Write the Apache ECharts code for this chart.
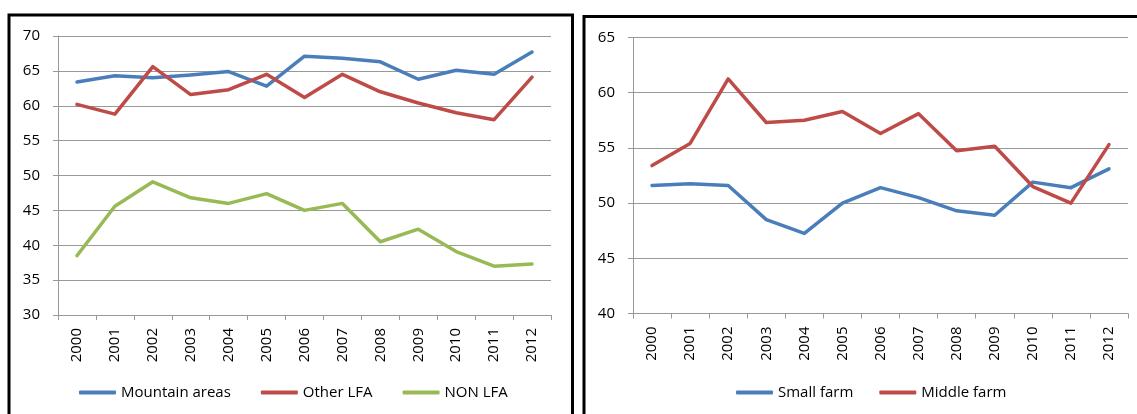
<!DOCTYPE html>
<html>
<head>
<meta charset="utf-8">
<style>
  html, body { margin: 0; padding: 0; background: #fff; }
  #chart { width: 1137px; height: 414px; }
</style>
<script src="https://cdn.jsdelivr.net/npm/echarts@6/dist/echarts.min.js"></script>
</head>
<body>
<div id="chart"></div>
<script>
// years on both x axes
const years = ["2000", "2001", "2002", "2003", "2004", "2005", "2006", "2007", "2008", "2009", "2010", "2011", "2012"];

// left panel
const mountainAreas = [63.4, 64.3, 64.0, 64.4, 64.9, 62.8, 67.1, 66.8, 66.3, 63.8, 65.1, 64.5, 67.7];
const otherLFA = [60.2, 58.8, 65.6, 61.6, 62.3, 64.5, 61.2, 64.5, 62.0, 60.4, 59.0, 58.0, 64.1];
const nonLFA = [38.5, 45.6, 49.1, 46.8, 46.0, 47.4, 45.0, 46.0, 40.5, 42.3, 39.1, 37.0, 37.3];

// right panel
const smallFarm = [51.6, 51.75, 51.6, 48.5, 47.25, 50.0, 51.4, 50.5, 49.3, 48.9, 51.9, 51.4, 53.1];
const middleFarm = [53.4, 55.4, 61.25, 57.3, 57.5, 58.3, 56.3, 58.1, 54.75, 55.15, 51.5, 50.0, 55.3];

const BLUE = "#4A7EBB";
const RED = "#BE4B48";
const GREEN = "#98B954";
const FONT = "Open Sans";

const chart = echarts.init(document.getElementById("chart"));

function xAxis(gridIndex) {
  return {
    type: "category",
    gridIndex: gridIndex,
    data: years,
    boundaryGap: true,
    axisLine: { lineStyle: { color: "#999", width: 1 } },
    axisTick: { show: true, length: 5, lineStyle: { color: "#999" } },
    axisLabel: { rotate: 90, margin: 13, interval: 0, color: "#000", fontFamily: FONT, fontSize: 15 },
  };
}

function yAxis(gridIndex, min, max) {
  return {
    type: "value",
    gridIndex: gridIndex,
    min: min,
    max: max,
    interval: 5,
    axisLine: { show: true, lineStyle: { color: "#999", width: 1 } },
    axisTick: { show: true, length: 5, lineStyle: { color: "#999" } },
    axisLabel: { margin: 18, color: "#000", fontFamily: FONT, fontSize: 15 },
    splitLine: { lineStyle: { color: "#999", width: 1 } },
  };
}

function line(name, data, color, idx) {
  return {
    name: name,
    type: "line",
    xAxisIndex: idx,
    yAxisIndex: idx,
    data: data,
    symbol: "none",
    color: color,
    lineStyle: { width: 3.5, color: color, cap: "round", join: "round" },
    animation: false,
  };
}

const legendText = { color: "#000", fontFamily: FONT, fontSize: 15 };

chart.setOption({
  animation: false,
  grid: [
    { left: 58, top: 36, width: 493, height: 279 },
    { left: 633, top: 37.5, width: 495, height: 276 },
  ],
  xAxis: [xAxis(0), xAxis(1)],
  yAxis: [yAxis(0, 30, 70), yAxis(1, 40, 65)],
  legend: [
    {
      data: ["Mountain areas", "Other LFA", "NON LFA"],
      left: 74, top: 380,
      icon: "roundRect", itemWidth: 37, itemHeight: 4, itemGap: 30,
      textStyle: legendText,
    },
    {
      data: ["Small farm", "Middle farm"],
      left: 731, top: 380,
      icon: "roundRect", itemWidth: 37, itemHeight: 4, itemGap: 26,
      textStyle: legendText,
    },
  ],
  series: [
    line("Mountain areas", mountainAreas, BLUE, 0),
    line("Other LFA", otherLFA, RED, 0),
    line("NON LFA", nonLFA, GREEN, 0),
    line("Small farm", smallFarm, BLUE, 1),
    line("Middle farm", middleFarm, RED, 1),
  ],
  graphic: [
    // panel frames
    { type: "rect", shape: { x: 9, y: 15, width: 563.5, height: 430 }, style: { fill: "none", stroke: "#000", lineWidth: 3 } },
    { type: "rect", shape: { x: 584, y: 16.5, width: 600, height: 430 }, style: { fill: "none", stroke: "#000", lineWidth: 3 } },
  ],
});
</script>
</body>
</html>
